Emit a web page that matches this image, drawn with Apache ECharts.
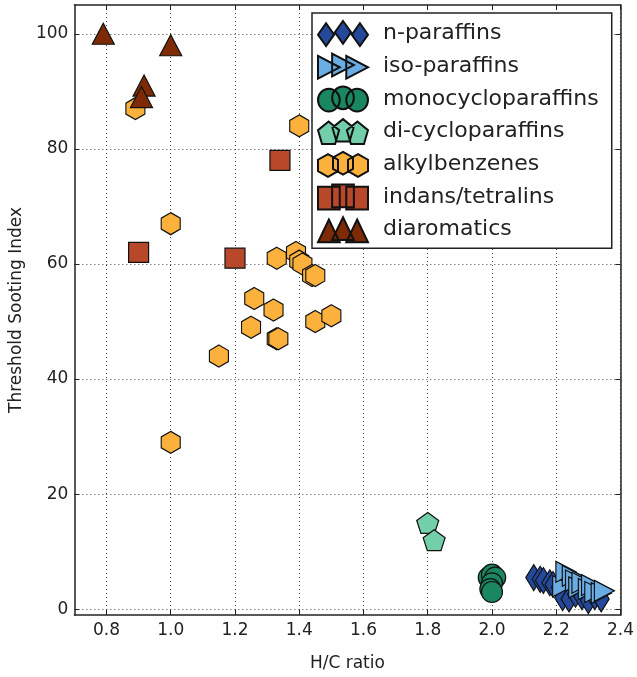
<!DOCTYPE html>
<html>
<head>
<meta charset="utf-8">
<script src="https://cdn.jsdelivr.net/npm/echarts@6/dist/echarts.min.js"></script>
<style>
  html, body { margin: 0; padding: 0; background: #fff; }
  #chart { width: 637px; height: 677px; }
</style>
</head>
<body>
<div id="chart"></div>
<script>
// [H/C ratio, TSI]
var nParaffins = [[2.13, 5.5], [2.15, 5.2], [2.16, 5.0], [2.18, 4.6], [2.19, 4.3], [2.21, 3.8],
  [2.22, 2.0], [2.24, 1.8], [2.26, 2.6], [2.28, 2.2], [2.30, 1.5], [2.32, 2.2], [2.34, 1.8]];
var isoParaffins = [[2.22, 4.0], [2.23, 6.5], [2.25, 5.8], [2.26, 5.0], [2.27, 3.8], [2.28, 4.6],
  [2.30, 3.5], [2.31, 4.2], [2.32, 3.0], [2.34, 2.8], [2.35, 3.2]];
var monocycloparaffins = [[1.99, 5.5], [2.0, 6.0], [2.01, 5.5], [2.0, 4.5], [1.995, 3.5], [2.0, 3.0]];
var dicycloparaffins = [[1.80, 15], [1.82, 12]];
var alkylbenzenes = [[0.89, 87], [1.0, 67], [1.0, 29], [1.15, 44], [1.25, 49], [1.26, 54],
  [1.32, 52], [1.33, 47], [1.335, 47], [1.33, 61], [1.39, 62], [1.40, 60.5], [1.41, 60],
  [1.40, 84], [1.44, 58], [1.45, 58], [1.45, 50], [1.50, 51]];
var indansTetralins = [[0.9, 62], [1.2, 61], [1.34, 78]];
var diaromatics = [[0.79, 100], [1.0, 98], [0.917, 91], [0.909, 89]];

var xTicks = [0.8, 1.0, 1.2, 1.4, 1.6, 1.8, 2.0, 2.2, 2.4];
var yTicks = [0, 20, 40, 60, 80, 100];

var FONT = "DejaVu Sans";

// marker outlines (unit polygons, y down)
var shapes = {
  diamond: [[0, -1], [0.62, 0], [0, 1], [-0.62, 0]],
  right: [[-1, -1], [1, 0], [-1, 1]],
  up: [[0, -1], [1, 1], [-1, 1]],
  pentagon: [[0, -1], [0.951, -0.309], [0.588, 0.809], [-0.588, 0.809], [-0.951, -0.309]],
  hexagon: [[0, -1], [0.866, -0.5], [0.866, 0.5], [0, 1], [-0.866, 0.5], [-0.866, -0.5]],
  square: [[-1, -1], [1, -1], [1, 1], [-1, 1]]
};

function polyPath(pts, dx, dy, s) {
  return pts.map(function (p, i) {
    return (i ? "L" : "M") + (p[0] * s + dx).toFixed(2) + "," + (p[1] * s + dy).toFixed(2);
  }).join(" ") + " Z";
}
function symbolPath(name) {
  return "path://" + polyPath(shapes[name], 0, 0, 10);
}
// three overlapping markers for the legend
function legendPath(name) {
  var offs = [[-13, 1], [0, -1], [13, 1]];
  return "path://" + offs.map(function (o) {
    if (name === "circle") {
      var r = 10, cx = o[0], cy = o[1];
      return "M" + (cx - r) + "," + cy + " A" + r + "," + r + " 0 1 0 " + (cx + r) + "," + cy +
        " A" + r + "," + r + " 0 1 0 " + (cx - r) + "," + cy + " Z";
    }
    return polyPath(shapes[name], o[0], o[1], 10);
  }).join(" ");
}

var groups = [
  { name: "n-paraffins", data: nParaffins, color: "#24499a", symbol: symbolPath("diamond"), size: [16, 26], icon: legendPath("diamond") },
  { name: "iso-paraffins", data: isoParaffins, color: "#6aade4", symbol: symbolPath("right"), size: [20, 21], icon: legendPath("right") },
  { name: "monocycloparaffins", data: monocycloparaffins, color: "#1a8760", symbol: "circle", size: 21, icon: legendPath("circle") },
  { name: "di-cycloparaffins", data: dicycloparaffins, color: "#72cfa9", symbol: symbolPath("pentagon"), size: [22, 21], icon: legendPath("pentagon") },
  { name: "alkylbenzenes", data: alkylbenzenes, color: "#fbb13c", symbol: symbolPath("hexagon"), size: [19, 22], icon: legendPath("hexagon") },
  { name: "indans/tetralins", data: indansTetralins, color: "#b8482a", symbol: "rect", size: 20, icon: legendPath("square") },
  { name: "diaromatics", data: diaromatics, color: "#7e2a04", symbol: "triangle", size: [22, 21], icon: legendPath("up") }
];

var series = groups.map(function (g) {
  return {
    name: g.name,
    type: "scatter",
    data: g.data,
    symbol: g.symbol,
    symbolSize: g.size,
    symbolKeepAspect: false,
    itemStyle: { color: g.color, borderColor: "#111", borderWidth: 1.2, opacity: 1 },
    emphasis: { disabled: true }
  };
});

var gridLine = { show: true, lineStyle: { color: "#444", type: [1, 3], width: 1 } };
var tickFmt = function (v) { return v.toFixed(1); };

function xAxisDef(pos, main) {
  return {
    type: "value", min: 0.7, max: 2.4, position: pos,
    name: main ? "H/C ratio" : "", nameLocation: "middle", nameGap: 40,
    nameTextStyle: { fontFamily: FONT, fontSize: 17, color: "#222" },
    axisLine: { show: true, onZero: false, lineStyle: { color: "#222", width: 1.5 } },
    axisTick: { show: true, inside: true, length: 5, customValues: xTicks, lineStyle: { color: "#222" } },
    axisLabel: { show: main, customValues: xTicks, formatter: tickFmt, fontFamily: FONT, fontSize: 17, color: "#222", margin: 7 },
    splitLine: main ? gridLine : { show: false }
  };
}
function yAxisDef(pos, main) {
  return {
    type: "value", min: -1, max: 105, position: pos,
    name: main ? "Threshold Sooting Index" : "", nameLocation: "middle", nameGap: 48,
    nameTextStyle: { fontFamily: FONT, fontSize: 17, color: "#222" },
    axisLine: { show: true, onZero: false, lineStyle: { color: "#222", width: 1.5 } },
    axisTick: { show: true, inside: true, length: 5, customValues: yTicks, lineStyle: { color: "#222" } },
    axisLabel: { show: main, customValues: yTicks, fontFamily: FONT, fontSize: 17, color: "#222", margin: 6 },
    splitLine: main ? gridLine : { show: false }
  };
}

var chart = echarts.init(document.getElementById("chart"), null, { renderer: "canvas" });
chart.setOption({
  backgroundColor: "#fff",
  animation: false,
  grid: { left: 70, right: 13, top: 5, bottom: 56, containLabel: false },
  xAxis: [xAxisDef("bottom", true), xAxisDef("top", false)],
  yAxis: [yAxisDef("left", true), yAxisDef("right", false)],
  legend: {
    orient: "vertical",
    left: 312, top: 13,
    padding: [7, 13, 5, 5],
    backgroundColor: "#fff",
    borderColor: "#222",
    borderWidth: 1.5,
    borderRadius: 0,
    itemWidth: 50, itemHeight: 25, itemGap: 5.7,
    symbolKeepAspect: false,
    selectedMode: false,
    textStyle: { fontFamily: FONT, fontSize: 22, lineHeight: 25, color: "#222", padding: [0, 0, 0, 10] },
    data: groups.map(function (g) { return { name: g.name, icon: g.icon }; })
  },
  series: series
});
</script>
</body>
</html>
